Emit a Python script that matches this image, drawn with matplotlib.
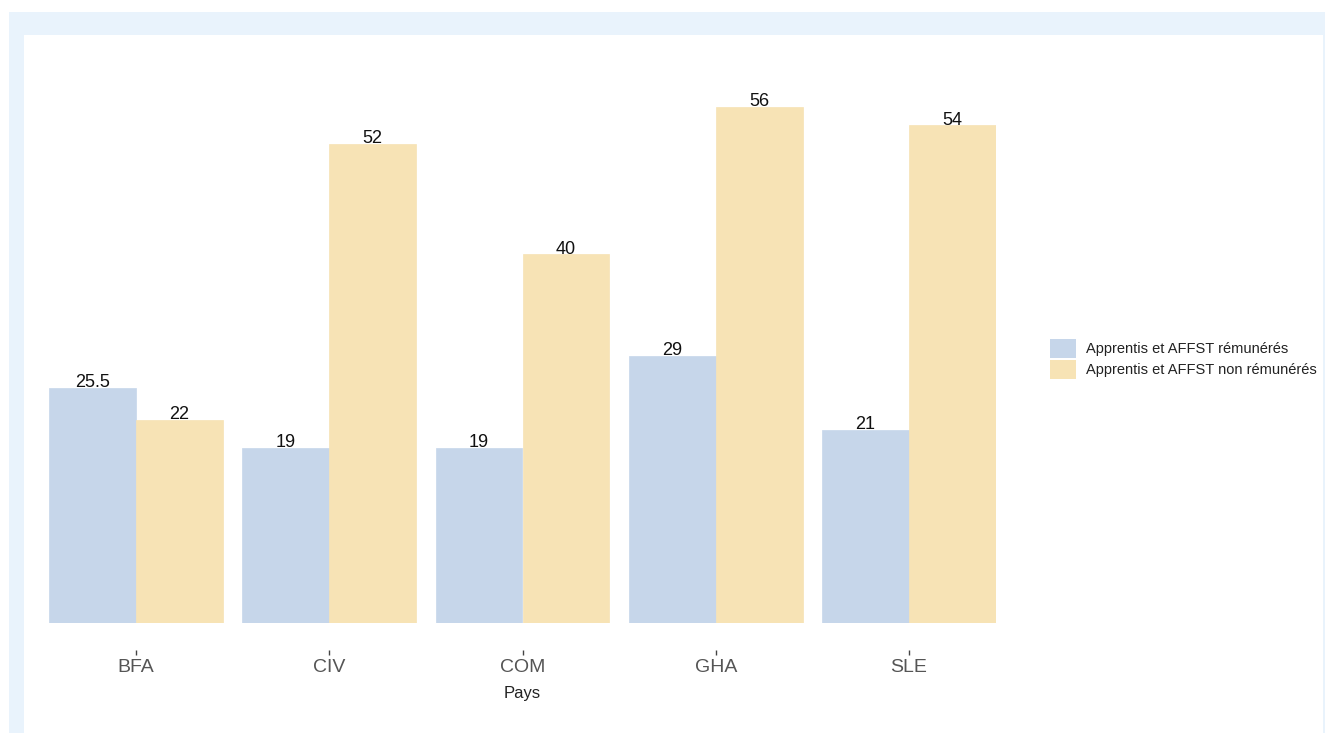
import matplotlib
matplotlib.use("Agg")
import matplotlib.pyplot as plt
from matplotlib.patches import Rectangle
from matplotlib.legend_handler import HandlerPatch
import numpy as np

countries = ["BFA", "CIV", "COM", "GHA", "SLE"]
paid = [25.5, 19, 19, 29, 21]
unpaid = [22, 52, 40, 56, 54]
series_labels = ["Apprentis et AFFST rémunérés", "Apprentis et AFFST non rémunérés"]
colors = ["#c6d6ea", "#f7e3b5"]

plt.rcParams['font.family'] = ['Liberation Sans', 'DejaVu Sans']

W, H = 1325, 733
PT = 72 / 100  # points per pixel
fig = plt.figure(figsize=(W / 100, H / 100), dpi=100)
fig.patch.set_facecolor("white")
# background frame
fig.patches.append(Rectangle((9 / W, 0), (W - 9) / W, (H - 12) / H, transform=fig.transFigure,
                             facecolor="#e9f3fc", edgecolor="none", zorder=-2))
fig.patches.append(Rectangle((24 / W, 0), (1323 - 24) / W, (H - 35) / H, transform=fig.transFigure,
                             facecolor="white", edgecolor="none", zorder=-1))

ymax = 60
px_per_unit = (623 - 107) / 56
ax_h = ymax * px_per_unit
ax = fig.add_axes([49 / W, (H - 623) / H, (996 - 49) / W, ax_h / H])
ax.set_facecolor("none")

x = np.arange(len(countries))
w = 0.45
b1 = ax.bar(x - w / 2, paid, width=w, color=colors[0], edgecolor=colors[0], linewidth=0.5,
            label=series_labels[0])
b2 = ax.bar(x + w / 2, unpaid, width=w, color=colors[1], edgecolor=colors[1], linewidth=0.5,
            label=series_labels[1])
for bars, vals in ((b1, paid), (b2, unpaid)):
    for r, v in zip(bars, vals):
        txt = f"{v:g}"
        ax.text(r.get_x() + r.get_width() / 2, v + 0.1, txt, ha="center", va="baseline",
                fontsize=13, color="#111111")

ax.set_xlim(-0.45, len(countries) - 1 + 0.45)
ax.set_ylim(0, ymax)
for s in ["top", "right", "left"]:
    ax.spines[s].set_visible(False)
ax.spines["bottom"].set_position(("outward", 27 * PT))
ax.spines["bottom"].set_visible(False)
ax.set_yticks([])
ax.set_xticks(x)
ax.set_xticklabels(countries, fontsize=14, color="#555555")
ax.tick_params(axis="x", length=5 * PT, width=1, color="#444444", pad=2.8)
ax.set_xlabel("Pays", fontsize=12, color="#222222", labelpad=7.5)


def full_patch(legend, orig_handle, xdescent, ydescent, width, height, fontsize):
    full = fontsize * legend.handleheight
    cy = -ydescent + height / 2
    return Rectangle((-xdescent, cy - full / 2), width, full)


leg = fig.legend(handles=[b1, b2], labels=series_labels, loc="center left",
                 bbox_to_anchor=(1050 / W, (H - 359) / H), frameon=False,
                 fontsize=10.5, handlelength=1.8, handleheight=1.65,
                 labelspacing=0.1, handletextpad=0.65, borderpad=0, borderaxespad=0,
                 handler_map={b1.patches[0].__class__: HandlerPatch(patch_func=full_patch)})
for t in leg.get_texts():
    t.set_color("#222222")
for p, c in zip(leg.get_patches(), colors):
    p.set_edgecolor("none")
    p.set_facecolor(c)

fig.savefig("out.png", dpi=100)
